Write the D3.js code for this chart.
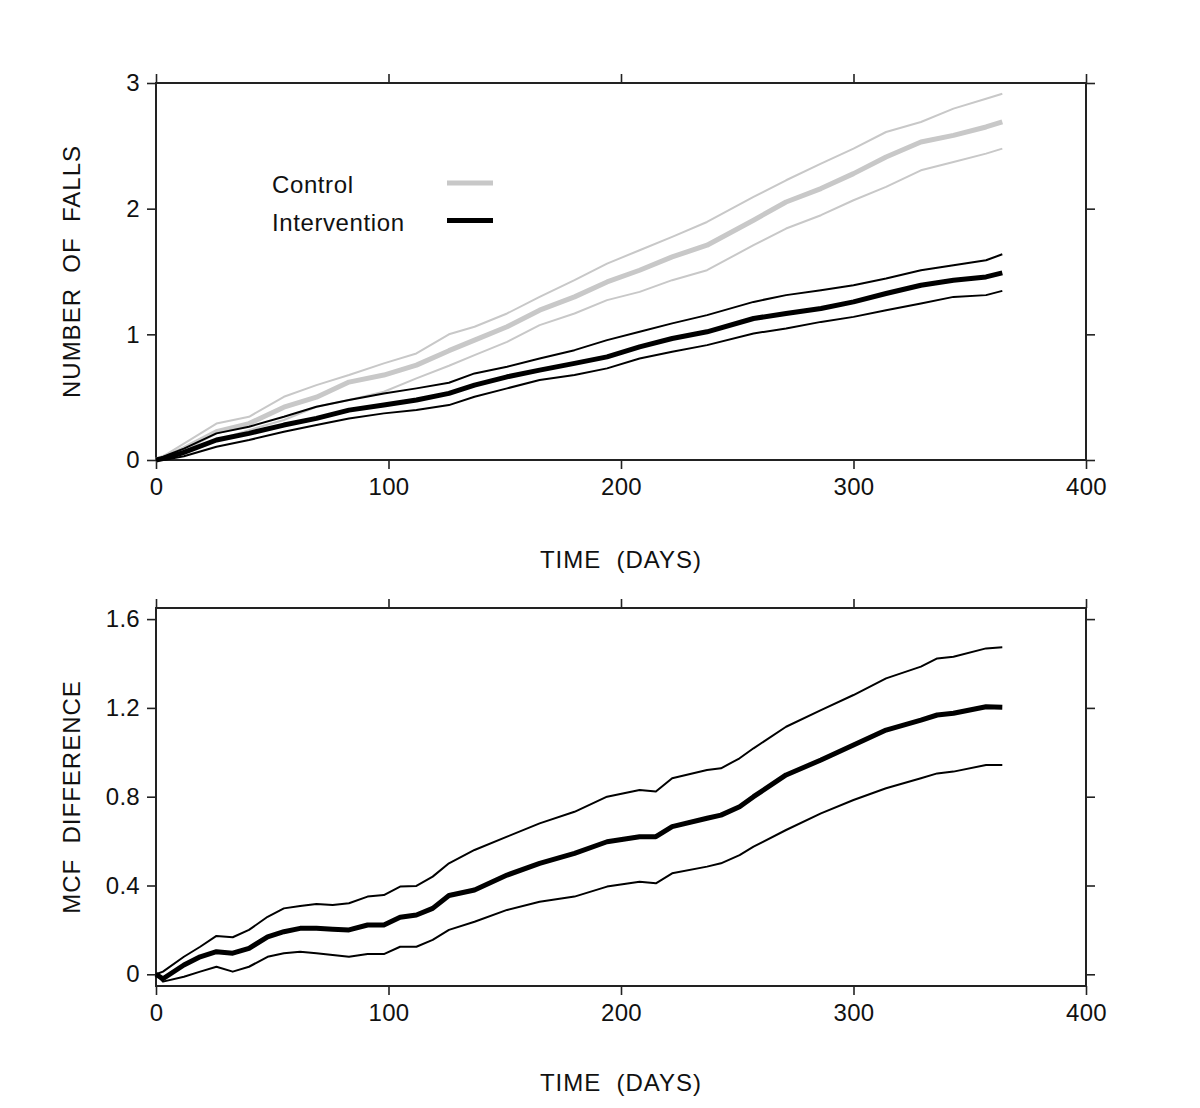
<!DOCTYPE html>
<html>
<head>
<meta charset="utf-8">
<script src="https://cdn.jsdelivr.net/npm/d3@7"></script>
<style>
  html, body { margin: 0; padding: 0; background: #fff; }
  svg { display: block; }
  text { font-family: "Liberation Sans", Arial, sans-serif; fill: #111; }
</style>
</head>
<body>
<svg id="chart" width="1200" height="1108"></svg>
<script>
// ---------- DATA ----------
// Top panel: mean cumulative number of falls (MCF) with confidence limits
const topDays = [0, 5, 12, 26, 40, 55, 69, 83, 98, 112, 126, 137, 151, 165, 180, 194, 208, 222, 237, 257, 271, 286, 300, 314, 329, 343, 357, 364];
const controlMean = [0, 0.03, 0.09, 0.225, 0.29, 0.42, 0.50, 0.62, 0.676, 0.755, 0.87, 0.954, 1.06, 1.192, 1.298, 1.417, 1.51, 1.616, 1.709, 1.908, 2.053, 2.16, 2.279, 2.411, 2.53, 2.583, 2.65, 2.69];
const controlUpper = [0, 0.05, 0.13, 0.29, 0.344, 0.503, 0.596, 0.676, 0.769, 0.848, 1.00, 1.06, 1.166, 1.298, 1.431, 1.563, 1.669, 1.775, 1.894, 2.093, 2.226, 2.358, 2.478, 2.61, 2.69, 2.796, 2.875, 2.915];
const controlLower = [0, 0.01, 0.06, 0.159, 0.238, 0.318, 0.424, 0.477, 0.543, 0.649, 0.75, 0.835, 0.94, 1.073, 1.166, 1.272, 1.338, 1.431, 1.51, 1.71, 1.842, 1.948, 2.067, 2.173, 2.305, 2.371, 2.438, 2.478];
const interventionMean = [0, 0.02, 0.06, 0.159, 0.212, 0.278, 0.331, 0.397, 0.437, 0.477, 0.53, 0.596, 0.662, 0.715, 0.769, 0.821, 0.90, 0.967, 1.02, 1.126, 1.166, 1.206, 1.258, 1.325, 1.391, 1.431, 1.457, 1.489];
const interventionUpper = [0, 0.04, 0.09, 0.212, 0.265, 0.344, 0.424, 0.477, 0.53, 0.57, 0.615, 0.689, 0.742, 0.808, 0.874, 0.954, 1.02, 1.087, 1.153, 1.258, 1.312, 1.351, 1.391, 1.444, 1.51, 1.55, 1.59, 1.637];
const interventionLower = [0, 0.005, 0.03, 0.106, 0.159, 0.225, 0.278, 0.331, 0.371, 0.397, 0.437, 0.503, 0.57, 0.636, 0.676, 0.729, 0.808, 0.861, 0.914, 1.007, 1.047, 1.099, 1.139, 1.192, 1.246, 1.298, 1.312, 1.346];

// Bottom panel: MCF difference (control - intervention) with confidence limits
const diffDays = [0, 3, 12, 19, 26, 33, 40, 48, 55, 62, 69, 76, 83, 91, 98, 105, 112, 119, 126, 137, 151, 165, 180, 194, 208, 215, 222, 237, 243, 251, 257, 271, 286, 300, 314, 329, 336, 343, 357, 364];
const diffMean = [0, -0.02, 0.042, 0.079, 0.102, 0.095, 0.117, 0.169, 0.192, 0.207, 0.207, 0.203, 0.2, 0.222, 0.222, 0.257, 0.267, 0.297, 0.355, 0.38, 0.447, 0.5, 0.545, 0.597, 0.62, 0.62, 0.665, 0.703, 0.717, 0.755, 0.80, 0.898, 0.965, 1.033, 1.1, 1.145, 1.168, 1.176, 1.205, 1.203];
const diffUpper = [0, 0.012, 0.079, 0.124, 0.173, 0.167, 0.2, 0.259, 0.297, 0.308, 0.317, 0.312, 0.32, 0.35, 0.357, 0.395, 0.398, 0.44, 0.50, 0.56, 0.62, 0.68, 0.732, 0.80, 0.83, 0.823, 0.883, 0.92, 0.928, 0.973, 1.018, 1.115, 1.19, 1.258, 1.333, 1.386, 1.423, 1.43, 1.468, 1.473];
const diffLower = [0, -0.033, -0.011, 0.012, 0.034, 0.012, 0.034, 0.079, 0.095, 0.102, 0.095, 0.087, 0.079, 0.091, 0.091, 0.124, 0.124, 0.155, 0.20, 0.237, 0.29, 0.327, 0.35, 0.395, 0.417, 0.41, 0.455, 0.485, 0.50, 0.537, 0.575, 0.65, 0.725, 0.785, 0.838, 0.883, 0.905, 0.913, 0.943, 0.943];

const xTicks = [0, 100, 200, 300, 400];
const topYTicks = [0, 1, 2, 3];
const bottomYTicks = [0, 0.4, 0.8, 1.2, 1.6];
const legendLabels = ["Control", "Intervention"];
const xTitle = "TIME  (DAYS)";
const topYTitle = "NUMBER  OF  FALLS";
const bottomYTitle = "MCF  DIFFERENCE";

// ---------- DRAWING ----------
const svg = d3.select("#chart");
const GRAY = "#c8c8c8";
const INK = "#000";
const FRAME = "#222";
const FS = 24;

function zip(days, vals) { return days.map((d, i) => [d, vals[i]]); }

function drawPanel(opt) {
  const x = d3.scaleLinear().domain([0, 400]).range([156, 1086]);
  const y = d3.scaleLinear().domain(opt.yDomain).range([opt.bottom, opt.top]);
  const g = svg.append("g");

  const tk = 9;
  const styleAxis = sel => {
    sel.select(".domain").remove();
    sel.selectAll(".tick line").attr("stroke", FRAME).attr("stroke-width", 1.6);
    sel.selectAll(".tick text").style("font-family", "Liberation Sans, Arial, sans-serif")
      .style("font-size", FS + "px").style("letter-spacing", "0.3px").attr("fill", "#111");
  };

  g.append("g").attr("transform", `translate(0,${opt.bottom})`)
    .call(d3.axisBottom(x).tickValues(xTicks).tickSize(tk).tickPadding(9).tickFormat(d3.format("d")))
    .call(styleAxis);
  g.append("g").attr("transform", `translate(0,${opt.top})`)
    .call(d3.axisTop(x).tickValues(xTicks).tickSize(tk).tickFormat(""))
    .call(styleAxis);
  g.append("g").attr("transform", `translate(156,0)`)
    .call(d3.axisLeft(y).tickValues(opt.yTicks).tickSize(tk).tickPadding(7).tickFormat(opt.yFormat))
    .call(styleAxis);
  g.append("g").attr("transform", `translate(1086,0)`)
    .call(d3.axisRight(y).tickValues(opt.yTicks).tickSize(tk).tickFormat(""))
    .call(styleAxis);

  g.append("rect").attr("x", 156).attr("y", opt.top)
    .attr("width", 1086 - 156).attr("height", opt.bottom - opt.top)
    .attr("fill", "none").attr("stroke", FRAME).attr("stroke-width", 2);

  const line = d3.line().x(d => x(d[0])).y(d => y(d[1])).curve(d3.curveLinear);
  opt.series.forEach(s => {
    g.append("path").datum(zip(s.days, s.values))
      .attr("d", line).attr("fill", "none")
      .attr("stroke", s.color).attr("stroke-width", s.width)
      .attr("stroke-linejoin", "round").attr("stroke-linecap", "butt");
  });

  // axis titles
  g.append("text").attr("x", 621).attr("y", opt.xTitleY)
    .attr("text-anchor", "middle").style("font-size", FS + "px")
    .style("letter-spacing", "1px")
    .style("white-space", "pre").text(xTitle);
  g.append("text")
    .attr("transform", `translate(80,${(opt.top + opt.bottom) / 2}) rotate(-90)`)
    .attr("text-anchor", "middle").style("font-size", FS + "px")
    .style("letter-spacing", "1px")
    .style("white-space", "pre").text(opt.yTitle);
  return { x, y, g };
}

// Top panel
drawPanel({
  top: 83, bottom: 460, yDomain: [0, 3], yTicks: topYTicks,
  yFormat: d3.format("d"), yTitle: topYTitle, xTitleY: 568,
  series: [
    { days: topDays, values: controlUpper, color: GRAY, width: 2 },
    { days: topDays, values: controlLower, color: GRAY, width: 2 },
    { days: topDays, values: controlMean, color: GRAY, width: 5 },
    { days: topDays, values: interventionUpper, color: INK, width: 2 },
    { days: topDays, values: interventionLower, color: INK, width: 2 },
    { days: topDays, values: interventionMean, color: INK, width: 5 }
  ]
});

// Legend
const legend = svg.append("g");
const legendColors = [GRAY, INK];
legendLabels.forEach((lab, i) => {
  const yy = 183 + i * 37.5;
  legend.append("text").attr("x", 272).attr("y", yy + 10)
    .style("font-size", "24px").style("letter-spacing", "0.6px").text(lab);
  legend.append("line").attr("x1", 447).attr("x2", 493)
    .attr("y1", yy).attr("y2", yy)
    .attr("stroke", legendColors[i]).attr("stroke-width", 5);
});

// Bottom panel
drawPanel({
  top: 608, bottom: 986,
  yDomain: [-(986 - 974.3) / 222, (974.3 - 608) / 222],
  yTicks: bottomYTicks,
  yFormat: v => v === 0 ? "0" : v.toFixed(1),
  yTitle: bottomYTitle, xTitleY: 1091,
  series: [
    { days: diffDays, values: diffUpper, color: INK, width: 2 },
    { days: diffDays, values: diffLower, color: INK, width: 2 },
    { days: diffDays, values: diffMean, color: INK, width: 5 }
  ]
});
</script>
</body>
</html>
